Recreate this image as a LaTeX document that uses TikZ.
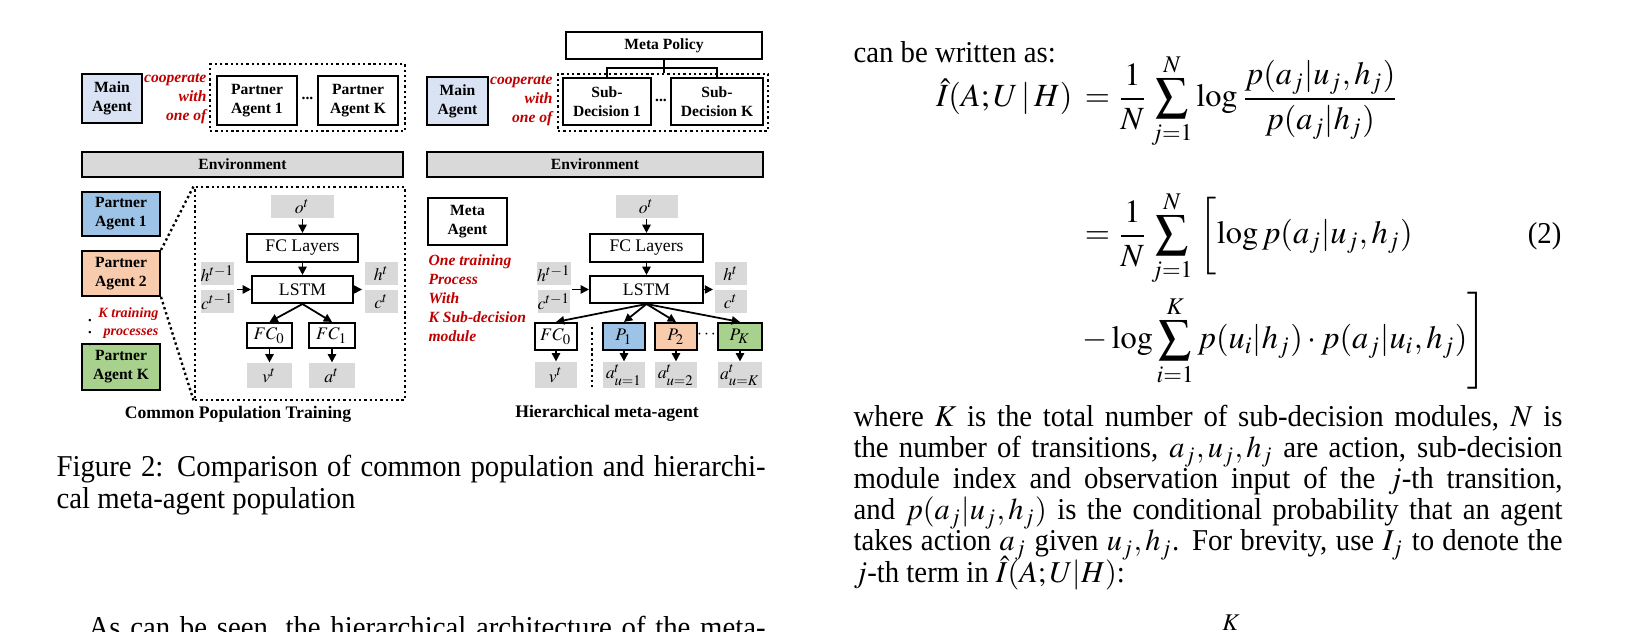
\documentclass[tikz,border=0pt]{standalone}
\usepackage{mathptmx}
\usepackage{amsmath}
\usepackage{fontspec}
\setmainfont{Liberation Serif}
\newfontfamily\bodyfont{Liberation Serif}[FakeStretch=0.95]
\usetikzlibrary{arrows.meta,positioning}
\definecolor{agentblue}{RGB}{218,227,243}
\definecolor{partnerblue}{RGB}{157,195,230}
\definecolor{partnerorange}{RGB}{248,203,173}
\definecolor{partnergreen}{RGB}{169,209,142}
\definecolor{boxgray}{RGB}{217,217,217}
\definecolor{coopred}{RGB}{192,0,0}
\newcommand\figfont{\fontsize{5.3}{6.5}\selectfont}
\newcommand\layerfont{\fontsize{6}{7}\selectfont}
\newcommand\eqfont{\fontsize{11}{13}\selectfont}
\newlength\colw
\setlength\colw{241.06pt}

\begin{document}
\begin{tikzpicture}[x=0.34pt, y=-0.34pt,
    sz/.style 2 args={minimum width=#1*0.34pt, minimum height=#2*0.34pt},
    agent/.style={draw, line width=0.7pt, inner sep=0pt, align=center, font=\figfont\bfseries},
    layer/.style={draw, line width=0.7pt, inner sep=0pt, font=\layerfont},
    sig/.style={fill=boxgray, inner sep=0pt, font=\layerfont},
    env/.style={draw, line width=0.7pt, fill=boxgray, inner sep=0pt, font=\figfont\bfseries},
    group/.style={draw, densely dotted, line width=0.8pt, inner sep=0pt},
    note/.style={text=coopred, font=\figfont\bfseries\itshape, inner sep=0pt},
    edge/.style={line width=0.6pt, -{Triangle[length=2.8pt,width=2.8pt]}},
    title/.style={inner sep=0pt, font=\fontsize{6}{7}\selectfont\bfseries},
    para/.style={anchor=base west, inner sep=0pt, font=\bodyfont\fontsize{10.3}{11}\selectfont},
    eqn/.style={inner sep=0pt, font=\eqfont}]
  \useasboundingbox (0,0) rectangle (1627,632);
  \fill[white] (0,0) rectangle (1627,632);
  \clip (0,0) rectangle (1627,632);

  \node[group, sz={195}{67}] (popA) at (307.5,97.5) {};
  \node[agent, fill=agentblue, sz={60}{49}] (mainA) at (112,98.5) {Main\\Agent};
  \node[note, align=right, anchor=east] (coopA) at (207,98.5) {cooperate\\with\\one of};
  \node[agent, sz={80}{49}] (pa1) at (257,100.5) {Partner\\Agent 1};
  \node[agent, sz={80}{49}] (paK) at (358,100.5) {Partner\\Agent K};
  \node[inner sep=0pt, font=\figfont\bfseries] (dotsA) at (307.5,98) {...};
  \node[env, sz={321}{25}] (envA) at (242.5,164.5) {Environment};

  \node[agent, sz={196}{27}] (metaP) at (664,45.5) {Meta Policy};
  \node[group, sz={210}{57}] (subD) at (663,102.5) {};
  \node[agent, fill=agentblue, sz={61}{48}] (mainB) at (457.5,101) {Main\\Agent};
  \node[note, align=right, anchor=east] (coopB) at (553,101) {cooperate\\with\\one of};
  \node[agent, sz={88}{47}] (sd1) at (607,101.5) {Sub-\\Decision 1};
  \node[agent, sz={92}{47}] (sdK) at (717,101.5) {Sub-\\Decision K};
  \node[inner sep=0pt, font=\figfont\bfseries] (dotsB) at (661,100) {...};
  \coordinate (bus) at (664,68);
  \draw[line width=0.7pt] (metaP.south) -- (metaP.south |- subD.north);
  \draw[line width=0.7pt] (sd1.north) |- (bus) -| (sdK.north);
  \node[env, sz={336}{25}] (envB) at (595,164.5) {Environment};

  \node[group, sz={210}{213}] (netA) at (300,293.5) {};
  \node[agent, fill=partnerblue, sz={78}{44}] (pag1) at (121,214) {Partner\\Agent 1};
  \node[agent, fill=partnerorange, sz={78}{45}] (pag2) at (121,273.5) {Partner\\Agent 2};
  \node[agent, fill=partnergreen, sz={78}{46}] (pagK) at (121,367) {Partner\\Agent K};
  \node[inner sep=0pt, font=\fontsize{7}{7}\selectfont] (vdA) at (90,324) {$\boldsymbol{\vdots}$};
  \node[note, align=right, anchor=east, font=\fontsize{4.8}{6}\selectfont\bfseries\itshape] (ktrain) at (159,323) {K training\\processes};
  \draw[densely dotted, line width=0.8pt] (pag2.north east) -- (netA.north west);
  \draw[densely dotted, line width=0.8pt] (pag2.south east) -- (netA.south west);

  \node[sig, sz={63}{23}] (oA) at (302.5,206.5) {$o^t$};
  \node[layer, sz={111}{28}] (fcA) at (302.5,248) {FC Layers};
  \node[layer, sz={101}{27}] (lstmA) at (302.5,289.5) {LSTM};
  \node[sig, sz={31}{23}] (hinA) at (217.5,273.5) {$h^{t-1}$};
  \node[sig, sz={31}{23}] (cinA) at (217.5,301.5) {$c^{t-1}$};
  \node[sig, sz={33}{23}] (houtA) at (381.5,273.5) {$h^t$};
  \node[sig, sz={33}{23}] (coutA) at (381.5,301.5) {$c^t$};
  \coordinate (inA) at (237,289.5);
  \coordinate (outA) at (362,289.5);
  \node[layer, sz={45}{25}] (fc0A) at (269.5,335.5) {$FC_0$};
  \node[layer, sz={46}{25}] (fc1A) at (332,335.5) {$FC_1$};
  \node[sig, sz={45}{25}] (vA) at (269.5,375.5) {$v^t$};
  \node[sig, sz={46}{25}] (aA) at (332,375.5) {$a^t$};
  \draw[edge] (oA) -- (fcA);
  \draw[edge] (fcA) -- (lstmA);
  \draw[edge] (inA) -- (lstmA);
  \draw[edge] (lstmA) -- (outA);
  \draw[edge] (lstmA.south) -- (fc0A.north);
  \draw[edge] (lstmA.south) -- (fc1A.north);
  \draw[edge] (fc0A) -- (vA);
  \draw[edge] (fc1A) -- (aA);
  \node[title] (titleA) at (238,414) {Common Population Training};

  \node[agent, sz={79}{47}] (metaA) at (467.5,221.5) {Meta\\Agent};
  \node[note, align=left, anchor=west] (onetrain) at (428,298) {One training\\Process\\With\\K Sub-decision\\module};
  \node[sig, sz={62}{23}] (oB) at (646.5,206.5) {$o^t$};
  \node[layer, sz={113}{28}] (fcB) at (646.5,248) {FC Layers};
  \node[layer, sz={113}{27}] (lstmB) at (646.5,289.5) {LSTM};
  \node[sig, sz={32}{23}] (hinB) at (554,273.5) {$h^{t-1}$};
  \node[sig, sz={32}{23}] (cinB) at (554,301.5) {$c^{t-1}$};
  \node[sig, sz={32}{23}] (houtB) at (731,273.5) {$h^t$};
  \node[sig, sz={32}{23}] (coutB) at (731,301.5) {$c^t$};
  \coordinate (inB) at (572,289.5);
  \coordinate (outB) at (713,289.5);
  \node[layer, sz={42}{27}] (fc0B) at (556,336.5) {$FC_0$};
  \node[layer, fill=partnerblue, sz={42}{27}] (p1) at (624,336.5) {$P_1$};
  \node[layer, fill=partnerorange, sz={42}{27}] (p2) at (676,336.5) {$P_2$};
  \node[layer, fill=partnergreen, sz={44}{27}] (pK) at (740,336.5) {$P_K$};
  \node[inner sep=0pt, font=\layerfont] (dotsC) at (707.5,335) {$\cdots$};
  \node[sig, sz={42}{26}] (vB) at (556,375) {$v^t$};
  \node[sig, sz={42}{26}] (a1) at (624,375) {$a^t_{u=1}$};
  \node[sig, sz={42}{26}] (a2) at (676,375) {$a^t_{u=2}$};
  \node[sig, sz={44}{26}] (aK) at (740,375) {$a^t_{u=K}$};
  \coordinate (sepT) at (592,327);
  \coordinate (sepB) at (592,387);
  \draw[densely dotted, line width=0.8pt] (sepT) -- (sepB);
  \draw[edge] (oB) -- (fcB);
  \draw[edge] (fcB) -- (lstmB);
  \draw[edge] (inB) -- (lstmB);
  \draw[edge] (lstmB) -- (outB);
  \foreach \n in {fc0B,p1,p2,pK}
    \draw[edge] (lstmB.south) -- (\n.north);
  \draw[edge] (fc0B) -- (vB);
  \draw[edge] (p1) -- (a1);
  \draw[edge] (p2) -- (a2);
  \draw[edge] (pK) -- (aK);
  \node[title] (titleB) at (607,413) {Hierarchical meta-agent};

  \node[para] (cap1) at (56,477) {\hbox to\colw{Figure 2: Comparison of common population and hierarchi-}};
  \node[para] (cap2) at (56,509) {cal meta-agent population};
  \node[para] (body1) at (88,638) {\hbox to 230.2pt{As can be seen, the hierarchical architecture of the meta-}};

  \node[para] (intro) at (853,63) {can be written as:};
  \node[eqn, anchor=base east] (eqlhs) at (1073,107) {$\displaystyle \hat{I}(A;U\,|\,H)$};
  \node[eqn, anchor=base west] (eqa) at (1077,107) {$\displaystyle {}=\frac{1}{N}\sum_{j=1}^{N}\log\frac{p(a_j|u_j,h_j)}{p(a_j|h_j)}$};
  \node[eqn, anchor=base west] (eqb) at (1077,244) {$\displaystyle {}=\frac{1}{N}\sum_{j=1}^{N}\;\biggl[\log p(a_j|u_j,h_j)$};
  \node[para, anchor=base east] (eqno) at (1562,244) {(2)};
  \node[eqn, anchor=base west] (eqc) at (1077,349) {$\displaystyle {}-\log\sum_{i=1}^{K}p(u_i|h_j)\cdot p(a_j|u_i,h_j)\Biggr]$};

  \node[para] (l1) at (853,427) {\hbox to\colw{where $K$ is the total number of sub-decision modules, $N$ is}};
  \node[para] (l2) at (853,458) {\hbox to\colw{the number of transitions, $a_j, u_j, h_j$ are action, sub-decision}};
  \node[para] (l3) at (853,489) {\hbox to\colw{module index and observation input of the $j$-th transition,}};
  \node[para] (l4) at (853,520) {\hbox to\colw{and $p(a_j|u_j,h_j)$ is the conditional probability that an agent}};
  \node[para] (l5) at (853,551) {\hbox to\colw{takes action $a_j$ given $u_j, h_j$. For brevity, use $I_j$ to denote the}};
  \node[para] (l6) at (853,583) {$j$-th term in $\hat{I}(A;U|H)$:};
  \node[eqn, anchor=base] (nextK) at (1231,631) {$\scriptstyle K$};
\end{tikzpicture}
\end{document}
